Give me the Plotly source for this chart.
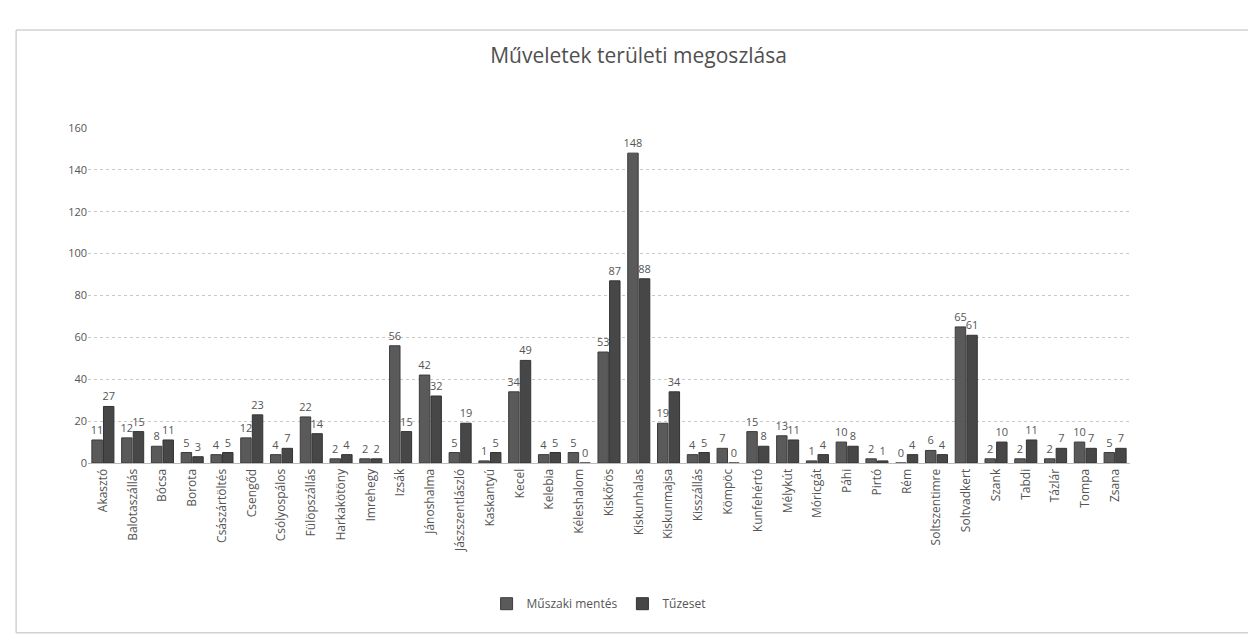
import plotly.graph_objects as go

# telepulesek es muveletek szama
telepulesek = ['Akasztó', 'Balotaszállás', 'Bócsa', 'Borota', 'Császártöltés', 'Csengőd',
               'Csólyospálos', 'Fülöpszállás', 'Harkakötöny', 'Imrehegy', 'Izsák', 'Jánoshalma',
               'Jászszentlászló', 'Kaskantyú', 'Kecel', 'Kelebia', 'Kéleshalom', 'Kiskőrös',
               'Kiskunhalas', 'Kiskunmajsa', 'Kisszállás', 'Kömpöc', 'Kunfehértó', 'Mélykút',
               'Móricgát', 'Páhi', 'Pirtó', 'Rém', 'Soltszentimre', 'Soltvadkert', 'Szank',
               'Tabdi', 'Tázlár', 'Tompa', 'Zsana']
muszaki_mentes = [11, 12, 8, 5, 4, 12, 4, 22, 2, 2, 56, 42, 5, 1, 34, 4, 5, 53, 148, 19,
                  4, 7, 15, 13, 1, 10, 2, 0, 6, 65, 2, 2, 2, 10, 5]
tuzeset = [27, 15, 11, 3, 5, 23, 7, 14, 4, 2, 15, 32, 19, 5, 49, 5, 0, 87, 88, 34,
           5, 0, 8, 11, 4, 8, 1, 4, 4, 61, 10, 11, 7, 7, 7]
y_ticks = [0, 20, 40, 60, 80, 100, 120, 140, 160]

label_font = dict(size=11, color='#555555', family='Liberation Sans Narrow, Open Sans, sans-serif')

fig = go.Figure()
fig.add_trace(go.Bar(x=telepulesek, y=muszaki_mentes, name='Műszaki mentés',
                     marker=dict(color='#5a5a5a', line=dict(color='#3c3c3c', width=1)),
                     text=muszaki_mentes, textposition='outside', cliponaxis=False,
                     constraintext='none', outsidetextfont=label_font))
fig.add_trace(go.Bar(x=telepulesek, y=tuzeset, name='Tűzeset',
                     marker=dict(color='#474747', line=dict(color='#333333', width=1)),
                     text=tuzeset, textposition='outside', cliponaxis=False,
                     constraintext='none', outsidetextfont=label_font))

fig.update_layout(
    width=1256, height=640,
    margin=dict(l=80, r=134, t=120, b=185),
    paper_bgcolor='white', plot_bgcolor='white',
    font=dict(family='Open Sans, sans-serif', color='#555555'),
    title=dict(text='Műveletek területi megoszlása', x=0.502, y=0.925,
               xanchor='center', yanchor='middle',
               font=dict(size=21, color='#505050', family='Open Sans, sans-serif')),
    barmode='group', bargap=0.22, bargroupgap=0.1,
    showlegend=True,
    legend=dict(orientation='h', x=0.49, xanchor='center', y=-0.42, yanchor='middle',
                font=dict(size=12, color='#555555'), itemwidth=30),
    xaxis=dict(tickangle=-90, tickfont=dict(size=12, color='#555555'),
               showgrid=False, showline=True, linecolor='#bbbbbb', ticks=''),
    yaxis=dict(range=[0, 160], tickvals=y_ticks, tickfont=dict(size=11, color='#555555'),
               showgrid=True, gridcolor='#c8c8c8', griddash='dot', zeroline=False,
               showline=False),
    shapes=[dict(type='rect', xref='paper', yref='paper',
                 x0=-0.069, x1=1.123, y0=-0.507, y1=1.2925,
                 line=dict(color='#bbbbbb', width=1), fillcolor='rgba(0,0,0,0)')],
)

fig.write_html('out.html')
